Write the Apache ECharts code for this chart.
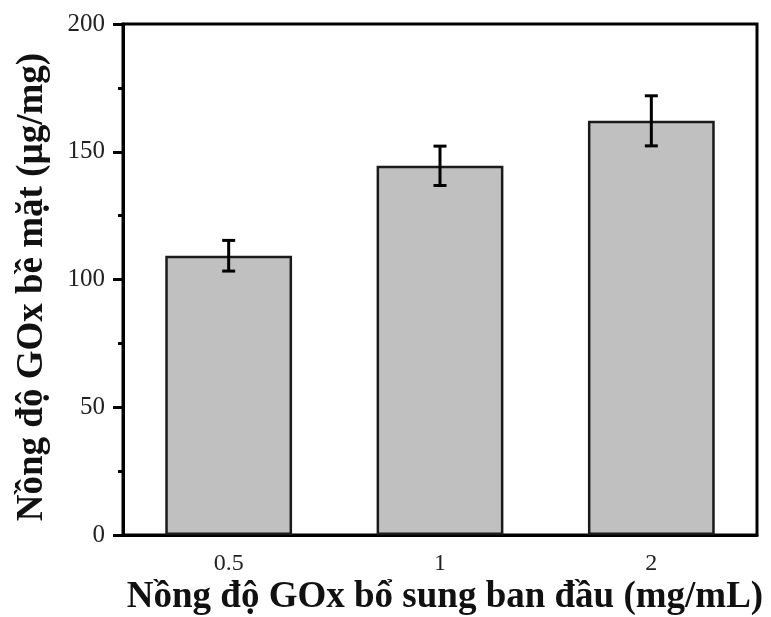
<!DOCTYPE html>
<html>
<head>
<meta charset="utf-8">
<script src="https://cdn.jsdelivr.net/npm/echarts@6/dist/echarts.min.js"></script>
<style>
  html, body { margin: 0; padding: 0; background: #fff; }
  #chart { width: 771px; height: 617px; }
</style>
</head>
<body>
<div id="chart"></div>
<script>
// Initial GOx concentration (mg/mL)
const categories = ['0.5', '1', '2'];
// Surface GOx loading (µg/mg)
const means = [109.3, 144.5, 162.1];
// Standard deviation of each loading
const errors = [6.0, 7.7, 9.8];
// Value axis ticks
const yTicks = [0, 50, 100, 150, 200];

const FONT = '"Liberation Serif", "Times New Roman", serif';

const errorData = categories.map((c, i) => [i, means[i] - errors[i], means[i] + errors[i]]);

const chart = echarts.init(document.getElementById('chart'), null, { renderer: 'canvas' });

chart.setOption({
  backgroundColor: '#ffffff',
  animation: false,
  grid: {
    left: 123, right: 14, top: 24, bottom: 82,
    show: true, borderColor: '#000', borderWidth: 3, backgroundColor: 'transparent'
  },
  xAxis: {
    type: 'category',
    data: categories,
    axisLine: { lineStyle: { color: '#000', width: 3 } },
    axisTick: { alignWithLabel: true, length: 10, lineStyle: { color: '#000', width: 3 } },
    axisLabel: { fontFamily: FONT, fontSize: 24, color: '#222', margin: 17 },
    splitLine: { show: false }
  },
  yAxis: {
    type: 'value',
    min: yTicks[0],
    max: yTicks[yTicks.length - 1],
    interval: 50,
    axisLine: { show: true, lineStyle: { color: '#000', width: 3 } },
    axisTick: { show: true, length: 10, lineStyle: { color: '#000', width: 3 } },
    minorTick: { show: true, splitNumber: 2, length: 5, lineStyle: { color: '#000', width: 3 } },
    axisLabel: { fontFamily: FONT, fontSize: 25, color: '#222', margin: 18 },
    splitLine: { show: false }
  },
  series: [
    {
      type: 'bar',
      data: means,
      barWidth: '60%',
      itemStyle: { color: '#c0c0c0', borderColor: '#1a1a1a', borderWidth: 2.5 }
    },
    {
      type: 'custom',
      data: errorData,
      z: 10,
      renderItem: function (params, api) {
        const x = api.value(0);
        const lo = api.coord([x, api.value(1)]);
        const hi = api.coord([x, api.value(2)]);
        const cap = 6.5;
        const style = { stroke: '#000', lineWidth: 3 };
        return {
          type: 'group',
          children: [
            { type: 'line', shape: { x1: hi[0], y1: hi[1], x2: lo[0], y2: lo[1] }, style },
            { type: 'line', shape: { x1: hi[0] - cap, y1: hi[1], x2: hi[0] + cap, y2: hi[1] }, style },
            { type: 'line', shape: { x1: lo[0] - cap, y1: lo[1], x2: lo[0] + cap, y2: lo[1] }, style }
          ]
        };
      }
    }
  ],
  graphic: [
    {
      type: 'text',
      x: 445,
      y: 597,
      style: {
        text: 'Nồng độ GOx bổ sung ban đầu (mg/mL)',
        font: 'bold 37px ' + FONT,
        fill: '#111',
        align: 'center',
        verticalAlign: 'middle'
      }
    },
    {
      type: 'text',
      x: 32,
      y: 287,
      rotation: Math.PI / 2,
      style: {
        text: 'Nồng độ GOx bề mặt (µg/mg)',
        font: 'bold 37px ' + FONT,
        fill: '#111',
        align: 'center',
        verticalAlign: 'middle'
      }
    }
  ]
});
</script>
</body>
</html>
